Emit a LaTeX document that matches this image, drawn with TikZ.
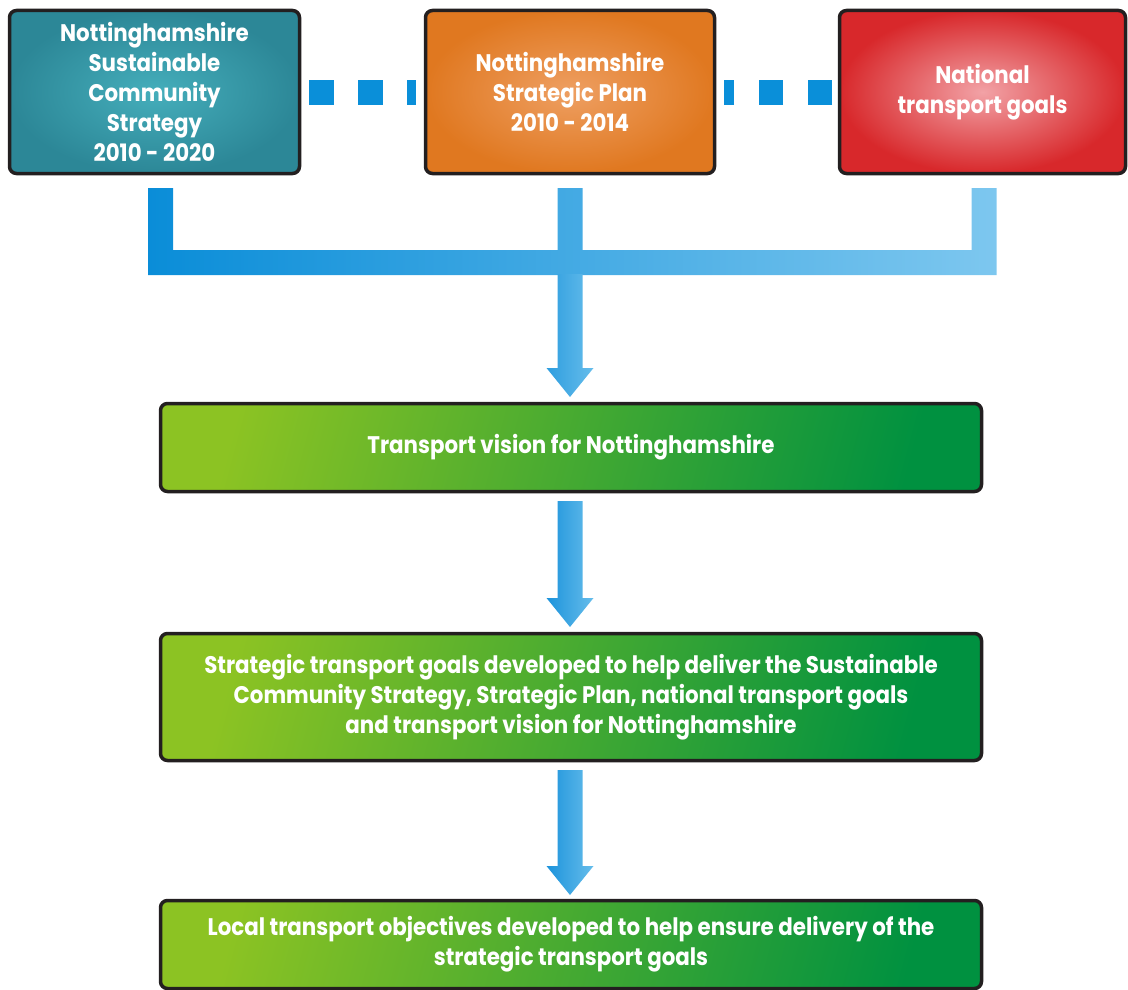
\documentclass[tikz,border=0pt]{standalone}
\usepackage{fontspec}
\setmainfont{Poppins}[FakeStretch=0.89]
\usetikzlibrary{calc}
\definecolor{bordc}{HTML}{231F20}
\definecolor{tealin}{HTML}{45AEBB}
\definecolor{tealout}{HTML}{2C8797}
\definecolor{orin}{HTML}{EE9F62}
\definecolor{orout}{HTML}{E07820}
\definecolor{redin}{HTML}{F2A2A6}
\definecolor{redout}{HTML}{D8282B}
\definecolor{grA}{HTML}{8CC323}
\definecolor{grB}{HTML}{009140}
\definecolor{blA}{HTML}{0A8DD8}
\definecolor{blB}{HTML}{7DC7EF}
\definecolor{arA}{HTML}{1C93DB}
\definecolor{arB}{HTML}{66BDEB}
\definecolor{sq}{HTML}{0A8FD9}
\tikzset{
  box/.style={draw=bordc, line width=3.5pt, rounded corners=7pt, outer sep=0pt,
    align=center, text=white, font=\bfseries\fontsize{24}{30}\selectfont},
  topbox/.style={box, minimum height=163pt},
  greenbox/.style={box, minimum width=821pt, left color=grA, right color=grB, shading angle=75},
  dotsq/.style={draw=sq, line width=25pt, dash pattern=on 24.5pt off 24.5pt},
  blockarrow/.style={left color=arA, right color=arB}
}
\newcommand{\blockarr}[2]{%
  \shade[blockarrow] ($(#1)+(-12.5,0)$) -- ($(#2)+(-12.5,-29)$) -- ($(#2)+(-23.5,-29)$) -- (#2)
    -- ($(#2)+(23.5,-29)$) -- ($(#2)+(12.5,-29)$) -- ($(#1)+(12.5,0)$) -- cycle;}
\begin{document}
\begin{tikzpicture}[x=1pt,y=-1pt]
\useasboundingbox (0,0) rectangle (1128,990);
% top boxes
\node[topbox, minimum width=290pt, inner color=tealin, outer color=tealout] (b1) at (154.5,92)
  {Nottinghamshire\\Sustainable\\Community\\Strategy\\2010 - 2020};
\node[topbox, minimum width=289pt, inner color=orin, outer color=orout] (b2) at (570,92)
  {Nottinghamshire\\Strategic Plan\\2010 - 2014};
\node[topbox, minimum width=286pt, inner color=redin, outer color=redout] (b3) at (982.5,92)
  {National\\transport goals};
% dotted links
\draw[dotsq] ($(b1.east)+(9.5,0.5)$) -- ($(b2.west)+(-9.5,0.5)$);
\draw[dotsq] ($(b3.west)+(-7.5,0.5)$) -- ($(b2.east)+(9.5,0.5)$);
% green boxes
\node[greenbox, minimum height=88pt] (g1) at (571,447.5) {Transport vision for Nottinghamshire};
\node[greenbox, minimum height=127pt] (g2) at (571,697)
  {Strategic transport goals developed to help deliver the Sustainable\\Community Strategy, Strategic Plan, national transport goals\\and transport vision for Nottinghamshire};
\node[greenbox, minimum height=88pt] (g3) at (571,944.5)
  {Local transport objectives developed to help ensure delivery of the\\strategic transport goals};
% bracket
\coordinate (t1) at ($(b1.south)+(6,14.5)$);
\coordinate (t2) at ($(b2.south)+(0,14.5)$);
\coordinate (t3) at ($(b3.south)+(1.5,14.5)$);
\shade[left color=blA, right color=blB]
  ($(t1)+(-12.5,0)$) -- ($(t1)+(-12.5,87)$) -- ($(t3)+(12.5,87)$) -- ($(t3)+(12.5,0)$)
  -- ($(t3)+(-12.5,0)$) -- ($(t3)+(-12.5,62)$) -- ($(t2)+(12.5,62)$) -- ($(t2)+(12.5,0)$)
  -- ($(t2)+(-12.5,0)$) -- ($(t2)+(-12.5,62)$) -- ($(t1)+(12.5,62)$) -- ($(t1)+(12.5,0)$) -- cycle;
% arrows
\coordinate (s1) at ($(t2)+(0,86)$);
\coordinate (e1) at ($(g1.north -| t2)+(0,-6.5)$);
\shade[left color=arA!75!arB, right color=arB]
  ($(s1)+(-12.5,0)$) -- ($(e1)+(-12.5,-29)$) -- ($(e1)+(-23.5,-29)$) -- (e1)
    -- ($(e1)+(23.5,-29)$) -- ($(e1)+(12.5,-29)$) -- ($(s1)+(12.5,0)$) -- cycle;
\coordinate (s2) at ($(g1.south -| t2)+(0,9.5)$);
\coordinate (e2) at ($(g2.north -| t2)+(0,-6.5)$);
\blockarr{s2}{e2}
\coordinate (s3) at ($(g2.south -| t2)+(0,9.5)$);
\coordinate (e3) at ($(g3.north -| t2)+(0,-5.5)$);
\blockarr{s3}{e3}
\end{tikzpicture}
\end{document}
